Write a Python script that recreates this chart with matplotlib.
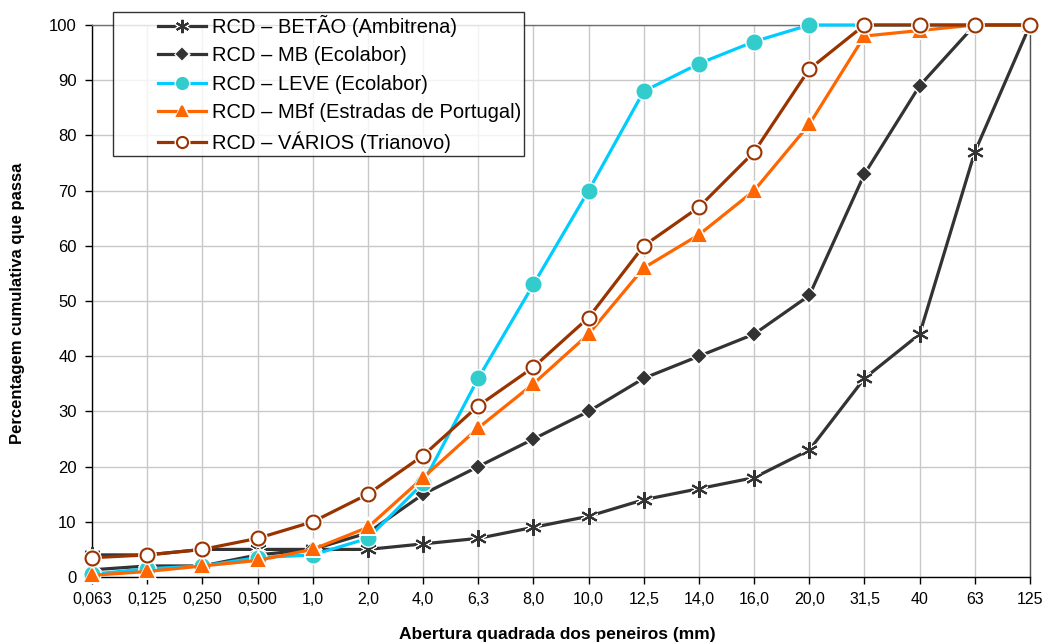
import matplotlib
matplotlib.use('Agg')
import matplotlib.pyplot as plt
from matplotlib.legend_handler import HandlerTuple

plt.rcParams['font.family'] = ['Liberation Sans', 'DejaVu Sans']

# Aberturas dos peneiros (mm) e percentagens cumulativas que passam
peneiros = ['0,063', '0,125', '0,250', '0,500', '1,0', '2,0', '4,0', '6,3', '8,0',
            '10,0', '12,5', '14,0', '16,0', '20,0', '31,5', '40', '63', '125']

betao = [4, 4, 5, 5, 5, 5, 6, 7, 9, 11, 14, 16, 18, 23, 36, 44, 77, 100]
mb = [1.3, 2, 2, 4, 5, 8, 15, 20, 25, 30, 36, 40, 44, 51, 73, 89, 100, 100]
leve = [0.5, 1.5, 2, 3.5, 4, 7, 17, 36, 53, 70, 88, 93, 97, 100, 100, 100, 100, 100]
mbf = [0.3, 1, 2, 3, 5, 9, 18, 27, 35, 44, 56, 62, 70, 82, 98, 99, 100, 100]
varios = [3.5, 4, 5, 7, 10, 15, 22, 31, 38, 47, 60, 67, 77, 92, 100, 100, 100, 100]

nomes = ['RCD – BETÃO (Ambitrena)', 'RCD – MB (Ecolabor)', 'RCD – LEVE (Ecolabor)',
         'RCD – MBf (Estradas de Portugal)', 'RCD – VÁRIOS (Trianovo)']

x = list(range(len(peneiros)))

fig = plt.figure(figsize=(10.47, 6.44), dpi=100)
ax = fig.add_axes([92 / 1047, 1 - 577 / 644, (1030 - 92) / 1047, (577 - 25) / 644])

# (dados, cor da linha, marcador, preenchimento, contorno, tamanho)
estilos = [
    (betao, '#333333', (6, 2, 0), '#333333', '#333333', 12),
    (mb, '#333333', 'D', '#333333', '#333333', 6.5),
    (leve, '#00CCFF', 'o', '#33CCCC', '#33CCCC', 10),
    (mbf, '#FF6600', '^', '#FF6600', '#FF6600', 8.5),
    (varios, '#993300', 'o', 'white', '#993300', 10),
]

handles = []
for i, (y, cor, mk, face, edge, ms) in enumerate(estilos):
    z = 3 + i * 3
    linha, = ax.plot(x, y, color=cor, lw=2.3, zorder=z, clip_on=False)
    halo, = ax.plot(x, y, ls='none', marker=mk, ms=ms, mfc='white', mec='white',
                    mew=3.5, zorder=z + 1, clip_on=False)
    marca, = ax.plot(x, y, ls='none', marker=mk, ms=ms, mfc=face, mec=edge,
                     mew=1.5, zorder=z + 2, clip_on=False)
    handles.append((linha, halo, marca))

ax.set_xlim(0, len(peneiros) - 1)
ax.set_ylim(0, 100)
ax.set_xticks(x)
ax.set_xticklabels(peneiros)
ax.set_yticks(range(0, 101, 10))
ax.tick_params(direction='out', length=5, width=1, colors='black', pad=6)
ax.tick_params(axis='x', labelsize=11.5)
ax.tick_params(axis='y', labelsize=12)
ax.grid(True, color='#C8C8C8', lw=1)
ax.set_axisbelow(True)
for s in ax.spines.values():
    s.set_color('black')
    s.set_linewidth(1)
ax.spines['top'].set_color('#707070')
ax.spines['right'].set_color('#505050')

fig.text(557 / 1047, 1 - 634 / 644, 'Abertura quadrada dos peneiros (mm)',
         ha='center', va='center', fontsize=12.5, fontweight='bold')
fig.text(18 / 1047, 1 - 303 / 644, 'Percentagem cumulativa que passa',
         ha='center', va='center', rotation=90, fontsize=12, fontweight='bold')

leg = fig.legend(handles, nomes, loc='upper left',
                 bbox_to_anchor=(113 / 1047, 1 - 12 / 644), fontsize=14.5,
                 frameon=True, fancybox=False, edgecolor='black',
                 handler_map={tuple: HandlerTuple(ndivide=1, xpad=2.1)},
                 handlelength=4.45, handletextpad=0.3, borderpad=0.15,
                 labelspacing=0.46, borderaxespad=0, markerscale=0.8)
leg.get_frame().set_linewidth(1)
leg.set_zorder(30)

fig.savefig('out.png', dpi=100)
